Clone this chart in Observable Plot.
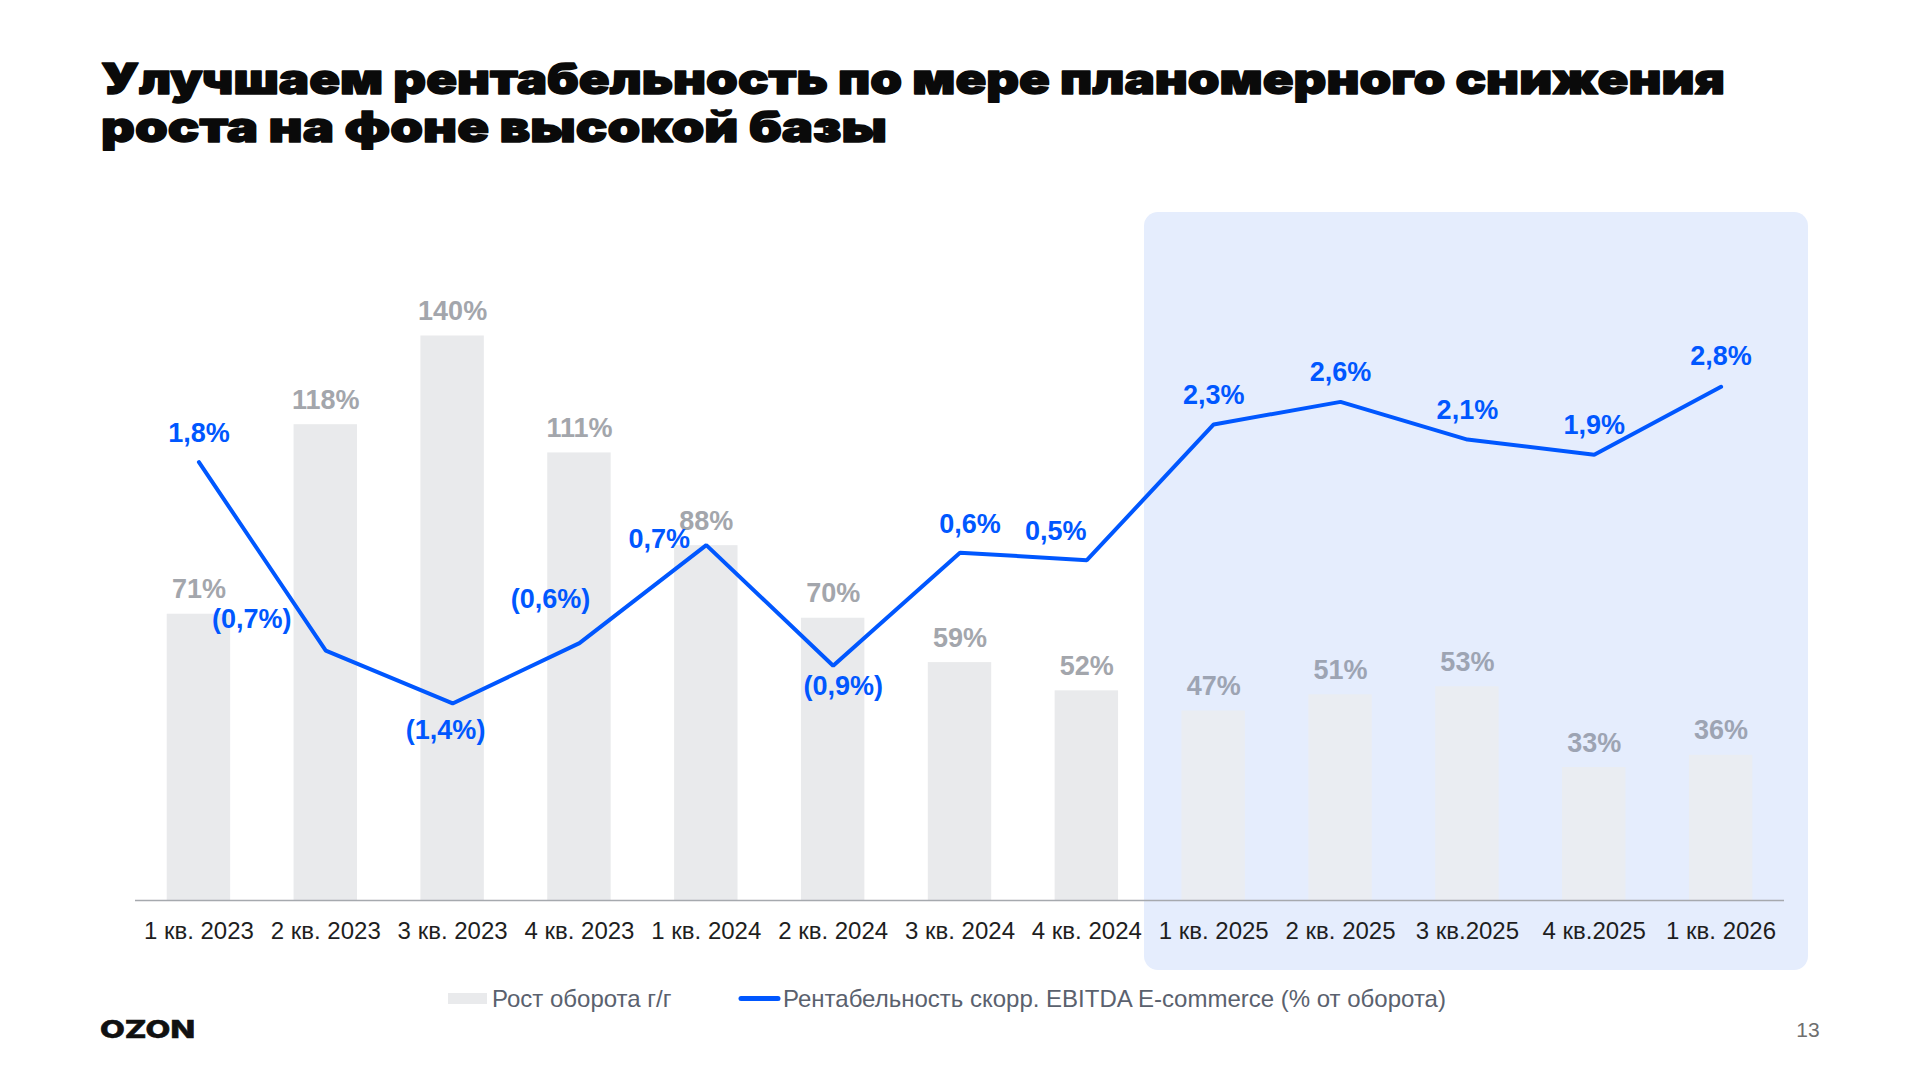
<!DOCTYPE html>
<html lang="ru">
<head>
<meta charset="utf-8">
<script src="https://cdn.jsdelivr.net/npm/d3@7"></script>
<script src="https://cdn.jsdelivr.net/npm/@observablehq/plot@0.6"></script>
<style>
  html, body { margin: 0; padding: 0; background: #fff; }
  #page { position: relative; width: 1920px; height: 1080px; overflow: hidden; background: #fff; }
  #box { position: absolute; left: 1144px; top: 212px; width: 664px; height: 758px; border-radius: 14px; background: #E5EDFD; }
  .layer { position: absolute; left: 135px; top: 200px; }
  #decor { position: absolute; left: 0; top: 0; }
</style>
</head>
<body>
<div id="page">
  <div id="box"></div>
  <div id="barsLayer" class="layer"></div>
  <div id="lineLayer" class="layer"></div>
  <svg id="decor" width="1920" height="1080" viewBox="0 0 1920 1080">
    <g font-family="Inter, 'Noto Sans', sans-serif" font-weight="900" font-size="42" fill="#0A0A0A" stroke="#0A0A0A" stroke-width="1.4" stroke-linejoin="round">
      <text x="101" y="93.5" textLength="1624" lengthAdjust="spacingAndGlyphs">Улучшаем рентабельность по мере планомерного снижения</text>
      <text x="101" y="142" textLength="786" lengthAdjust="spacingAndGlyphs">роста на фоне высокой базы</text>
    </g>
    <g font-family="Arial, 'Liberation Sans', sans-serif" font-size="24" fill="#5A616E">
      <rect x="448" y="993" width="39" height="11" fill="#E9EAEC"></rect>
      <text x="492" y="1007">Рост оборота г/г</text>
      <line x1="741" x2="778" y1="998.5" y2="998.5" stroke="#0057FF" stroke-width="5" stroke-linecap="round"></line>
      <text x="783" y="1007">Рентабельность скорр. EBITDA E-commerce (% от оборота)</text>
    </g>
    <text x="100" y="1038" font-family="Inter, sans-serif" font-weight="800" font-size="25" fill="#111" stroke="#111" stroke-width="0.6" textLength="95" lengthAdjust="spacingAndGlyphs">OZON</text>
    <text x="1808" y="1037" text-anchor="middle" font-family="Arial, 'Liberation Sans', sans-serif" font-size="21" fill="#6E6E6E">13</text>
  </svg>
</div>
<script>
// ---- data ----
const quarters = ["1 кв. 2023", "2 кв. 2023", "3 кв. 2023", "4 кв. 2023", "1 кв. 2024", "2 кв. 2024", "3 кв. 2024", "4 кв. 2024", "1 кв. 2025", "2 кв. 2025", "3 кв.2025", "4 кв.2025", "1 кв. 2026"];
const turnoverGrowth = [71, 118, 140, 111, 88, 70, 59, 52, 47, 51, 53, 33, 36];
const ebitdaMargin = [1.8, -0.7, -1.4, -0.6, 0.7, -0.9, 0.6, 0.5, 2.3, 2.6, 2.1, 1.9, 2.8];
const highlightedQuarters = ["1 кв. 2025", "2 кв. 2025", "3 кв.2025", "4 кв.2025", "1 кв. 2026"];

// ---- layout (label offsets in px, not data) ----
const lineLabelOffsets = [
  [0, -29], [-74, -31], [-7, 27], [-29, -44], [-47, -6], [10, 21], [10, -28],
  [-31, -29], [0, -29], [0, -30], [0, -29], [0, -29], [0, -30]
];

const rows = quarters.map((q, i) => ({q, growth: turnoverGrowth[i], margin: ebitdaMargin[i], hl: highlightedQuarters.includes(q)}));
const fmtMargin = v => {
  const s = Math.abs(v).toFixed(1).replace(".", ",") + "%";
  return v < 0 ? "(" + s + ")" : s;
};

const W = 1649, H = 780, MB = 80;
const font = "Arial, 'Liberation Sans', sans-serif";
const baseStyle = {fontFamily: font, background: "transparent", overflow: "visible"};

const bars = Plot.plot({
  width: W, height: H, marginLeft: 0, marginRight: 0, marginTop: 0, marginBottom: MB,
  style: baseStyle,
  x: {type: "band", domain: quarters, paddingInner: 0.5, paddingOuter: 0.25, align: 0.5, round: false, axis: null},
  y: {domain: [0, 173.6], axis: null},
  marks: [
    Plot.barY(rows, {x: "q", y: "growth", fill: d => d.hl ? "#EAEDF2" : "#E9EAEC"}),
    Plot.ruleY([0], {stroke: "#A6A9AE", strokeWidth: 1.5}),
    Plot.text(rows, {x: "q", y: "growth", text: d => d.growth + "%", dy: -24.5, fill: d => d.hl ? "#9DA4B3" : "#A3A6AC", fontSize: 27, fontWeight: "bold"})
  ]
});
document.getElementById("barsLayer").appendChild(bars);

const lineMarks = [
  Plot.axisX({tickSize: 0, tickPadding: 21, fontSize: 24, fill: "#1E1E1E", label: null}),
  Plot.line(rows, {x: "q", y: "margin", stroke: "#0057FF", strokeWidth: 4, strokeLinejoin: "miter", strokeLinecap: "round"})
];
rows.forEach((r, k) => {
  lineMarks.push(Plot.text([r], {
    x: "q", y: "margin", text: d => fmtMargin(d.margin),
    dx: lineLabelOffsets[k][0], dy: lineLabelOffsets[k][1],
    fill: "#0057FF", fontSize: 27, fontWeight: "bold"
  }));
});

const line = Plot.plot({
  width: W, height: H, marginLeft: 0, marginRight: 0, marginTop: 0, marginBottom: MB,
  style: baseStyle,
  x: {type: "point", domain: quarters, padding: 0.5, align: 0.5, round: false},
  y: {domain: [-4.0133, 5.2706], axis: null},
  marks: lineMarks
});
document.getElementById("lineLayer").appendChild(line);
</script>
</body>
</html>
